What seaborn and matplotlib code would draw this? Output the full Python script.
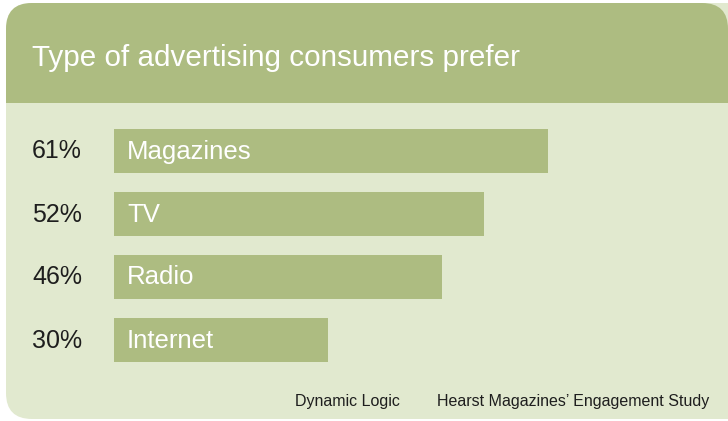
import matplotlib
matplotlib.use("Agg")
import matplotlib.pyplot as plt
import matplotlib.transforms as mtransforms
from matplotlib.patches import FancyBboxPatch, Rectangle
import seaborn as sns
import pandas as pd

# Chart data
media = ["Magazines", "TV", "Radio", "Internet"]
share_pct = [61, 52, 46, 30]
pct_labels = ["61%", "52%", "46%", "30%"]
title = "Type of advertising consumers prefer"
sources = ["Dynamic Logic", "Hearst Magazines\u2019 Engagement Study"]

HEADER = "#adbc81"
PANEL = "#e1e9cf"
BAR = "#adbc81"
INK = "#1e1e1e"

sns.set_theme(style="white")
plt.rcParams["font.family"] = ["Liberation Sans", "DejaVu Sans"]

W, H = 728, 421
fig = plt.figure(figsize=(W / 100, H / 100), dpi=100)
fig.patch.set_facecolor("white")

# Background panel drawn in pixel coordinates
bg = fig.add_axes([0, 0, 1, 1])
bg.set_xlim(0, W)
bg.set_ylim(H, 0)
bg.axis("off")

r = 26
panel = FancyBboxPatch((6, 3), W - 6 + 40, 419 - 3, boxstyle=f"round,pad=0,rounding_size={r}",
                       facecolor=PANEL, edgecolor="none")
bg.add_patch(panel)
header = FancyBboxPatch((6, 3), W - 6, 150, boxstyle=f"round,pad=0,rounding_size={r}",
                        facecolor=HEADER, edgecolor="none")
bg.add_patch(header)
bg.add_patch(Rectangle((6, 103), W, 80, facecolor=PANEL, edgecolor="none"))
bg.text(32, 66, title, color="white", fontsize=21.3, va="baseline", ha="left")

bg.text(295, 406, sources[0], color=INK, fontsize=11.5, va="baseline", ha="left")
bg.text(437, 406, sources[1], color=INK, fontsize=11.5, va="baseline", ha="left")

# Bar chart area
px_per_pct = 7.12
row_px = 63
x0, y_top, y_bot = 114, 119.5, 371.5
ax = fig.add_axes([x0 / W, (H - y_bot) / H, (W - x0) / W, (y_bot - y_top) / H])
ax.patch.set_alpha(0)

df = pd.DataFrame({"media": media, "share": share_pct})
sns.barplot(data=df, x="share", y="media", color=BAR, saturation=1, width=44 / row_px,
            linewidth=0, edgecolor="none", ax=ax)
ax.set_xlim(0, (W - x0) / px_per_pct)
ax.set_ylim(len(media) - 0.5, -0.5)
ax.axis("off")

lab_tf = mtransforms.blended_transform_factory(fig.transFigure, ax.transData)
base_off = 7.5 / row_px
for i, (name, lab) in enumerate(zip(media, pct_labels)):
    ax.text(32 / W, i + base_off, lab, transform=lab_tf, color=INK, fontsize=18,
            va="baseline", ha="left")
    ax.text(127 / W, i + base_off, name, transform=lab_tf, color="white", fontsize=18.5,
            va="baseline", ha="left")

fig.savefig("out.png", dpi=100, facecolor="white")
